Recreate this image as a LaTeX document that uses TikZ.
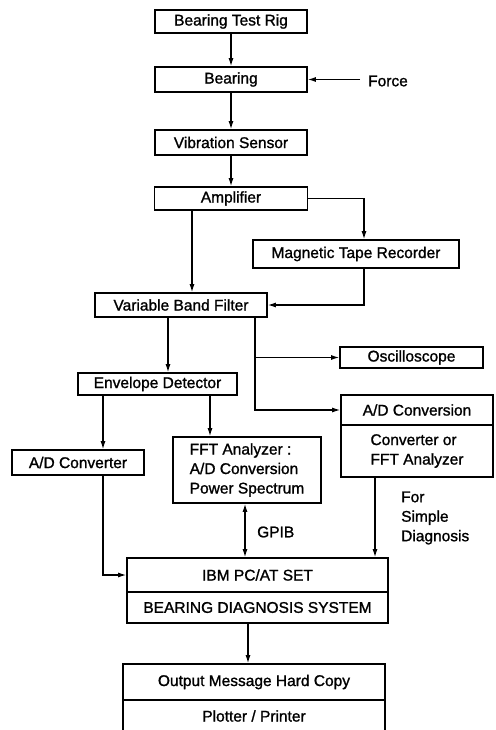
\documentclass[tikz,border=0pt]{standalone}
\usepackage{fontspec}
\setmainfont{Liberation Sans}
\newfontfamily\diagfont[FakeBold=1.2]{Liberation Sans}
\usetikzlibrary{arrows.meta,calc}
\begin{document}
\begin{tikzpicture}[x=1pt,y=-1pt,
  box/.style={draw,line width=1.7pt,inner sep=0pt,font=\diagfont\fontsize{15.5}{19.5}\selectfont},
  lbl/.style={inner sep=0pt,font=\diagfont\fontsize{15.5}{19.5}\selectfont},
  conn/.style={line width=1.2pt,-{Latex[length=8pt,width=5pt]}},
  dconn/.style={line width=1.2pt,{Latex[length=8pt,width=5pt]}-{Latex[length=8pt,width=5pt]}}]
\useasboundingbox (0,0) rectangle (495,730);
\fill[white] (0,0) rectangle (495,730);

% boxes
\node[box,minimum width=152pt,minimum height=23pt] (rig) at (231,21.5) {Bearing Test Rig};
\node[box,minimum width=152pt,minimum height=25pt] (bearing) at (231,79.5) {Bearing};
\node[box,minimum width=152pt,minimum height=25pt] (sensor) at (231,142.5) {Vibration Sensor};
\node[box,minimum width=153pt,minimum height=23pt] (amp) at (231,198.5) {Amplifier};
\node[box,minimum width=206pt,minimum height=28pt] (mtr) at (356,254) {Magnetic Tape Recorder};
\node[box,minimum width=172pt,minimum height=24pt] (vbf) at (181,305) {Variable Band Filter};
\node[box,minimum width=143pt,minimum height=21pt] (osc) at (411.5,357.5) {Oscilloscope};
\node[box,minimum width=159pt,minimum height=22pt] (env) at (157.5,384) {Envelope Detector};
\node[box,minimum width=152pt,minimum height=30pt] (adtop) at (417,410) {A/D Conversion};
\node[box,minimum width=152pt,minimum height=52pt,align=left] (adbot) at (417,451) {Converter or\\FFT Analyzer};
\node[box,minimum width=132pt,minimum height=25pt] (adc) at (78,462.5) {A/D Converter};
\node[box,minimum width=148pt,minimum height=66pt,align=left] (fft) at (247,470) {FFT Analyzer :\\A/D Conversion\\Power Spectrum};
\node[box,minimum width=261pt,minimum height=34pt] (ibmtop) at (257.5,575) {IBM PC/AT SET};
\node[box,minimum width=261pt,minimum height=31pt] (ibmbot) at (257.5,607.5) {BEARING DIAGNOSIS SYSTEM};
\node[box,minimum width=262pt,minimum height=36pt] (outtop) at (254,682) {Output Message Hard Copy};
\node[box,minimum width=262pt,minimum height=32pt] (outbot) at (254,716) {Plotter / Printer};

% labels
\node[lbl,anchor=west] (forcelbl) at (368,81) {Force};
\node[lbl,anchor=west] (gpib) at (257,532) {GPIB};
\node[lbl,anchor=west,align=left] (simple) at (401,518) {For\\Simple\\Diagnosis};

% column coordinates
\coordinate (force) at (360,79.5);
\coordinate (xa) at (192,0);
\coordinate (xm) at (364,0);
\coordinate (xe) at (168,0);
\coordinate (xv) at (255,0);
\coordinate (xb) at (103,0);
\coordinate (xf) at (210,0);
\coordinate (xg) at (245,0);
\coordinate (xs) at (375,0);
\coordinate (xo) at (248,0);

% connectors
\draw[conn] (rig) -- (bearing);
\draw[conn] (force) -- (bearing.east);
\draw[conn] (bearing) -- (sensor);
\draw[conn] (sensor) -- (amp);
\draw[conn] (amp.east) -| (mtr.north -| xm);
\draw[conn] (amp.south -| xa) -- (vbf.north -| xa);
\draw[conn] (mtr.south -| xm) |- (vbf.east);
\draw[conn] (vbf.south -| xe) -- (env.north -| xe);
\draw[conn] (vbf.south -| xv) |- (adtop.west);
\draw[conn] (xv |- osc.west) -- (osc.west);
\draw[conn] (env.south -| xb) -- (adc.north -| xb);
\draw[conn] (env.south -| xf) -- (fft.north -| xf);
\draw[conn] (adc.south -| xb) |- (ibmtop.west);
\draw[dconn] (fft.south -| xg) -- (ibmtop.north -| xg);
\draw[conn] (adbot.south -| xs) -- (ibmtop.north -| xs);
\draw[conn] (ibmbot.south -| xo) -- (outtop.north -| xo);
\end{tikzpicture}
\end{document}
